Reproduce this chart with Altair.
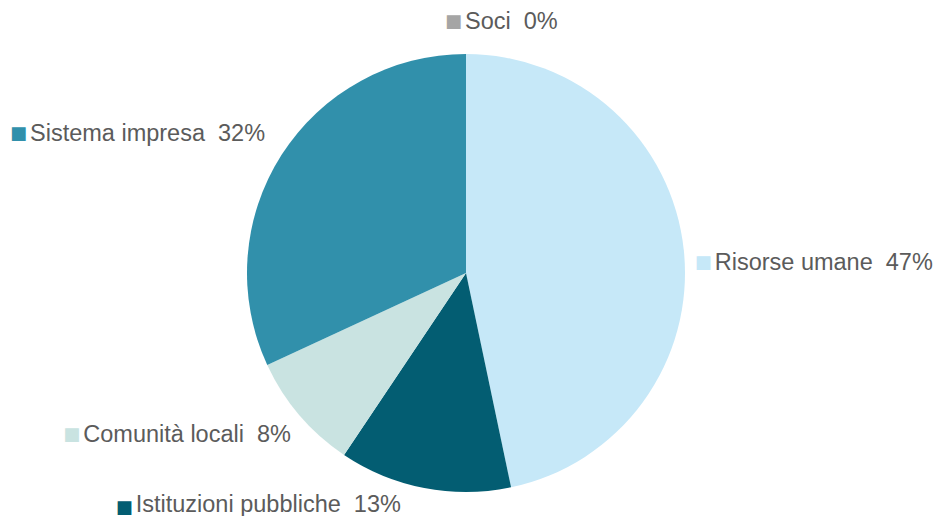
import math
import altair as alt
import pandas as pd

# ---- data ----
categories = ["Soci", "Risorse umane", "Istituzioni pubbliche", "Comunità locali", "Sistema impresa"]
values = [0.0, 46.7, 12.7, 8.7, 31.9]
pct_labels = ["0%", "47%", "13%", "8%", "32%"]
colors = ["#A5A5A5", "#C6E8F8", "#035D72", "#C9E3E1", "#3190AB"]

# ---- style / layout ----
FONT = "Liberation Sans"
FS = 23.5
TEXT_COLOR = "#5b5b5b"
CX, CY = 466, 273
R_PIE = 219
R_LAB = 242
SQ_GAP = 20
SQ_FS = 18
# fine placement of the data labels (pixels), as placed in the original
LABEL_NUDGE = {
    "Soci": (-21, -9),
    "Risorse umane": (-12, 15),
    "Istituzioni pubbliche": (-19, 6),
    "Comunità locali": (9, 5),
    "Sistema impresa": (3, -9),
}

# Arial / Liberation Sans advance widths (em)
W = {' ': .278, '\u00a0': .278, 'a': .556, 'b': .556, 'c': .5, 'd': .556, 'e': .556,
     'h': .556, 'i': .222, 'l': .222, 'm': .833, 'n': .556, 'o': .556, 'p': .556,
     'r': .333, 's': .5, 't': .278, 'u': .556, 'z': .5, 'à': .556, 'S': .667,
     'C': .722, 'I': .278, 'R': .722, '%': .889}


def text_width(s):
    return sum(W.get(ch, .556) for ch in s) * FS


total = sum(values)
cum = 0.0
mids = []
for v in values:
    mids.append(cum + v / 2)
    cum += v

df = pd.DataFrame({
    "order": list(range(len(categories))),
    "cat": categories,
    "value": values,
    "label": [c + " \u00a0" + p for c, p in zip(categories, pct_labels)],
    "mid": mids,
})

theta_scale = alt.Scale(domain=[0, total], range=[0, 2 * math.pi])
color_enc = alt.Color("cat:N", scale=alt.Scale(domain=categories, range=colors), legend=None)

pie = alt.Chart(df).mark_arc(outerRadius=R_PIE, strokeWidth=0).encode(
    theta=alt.Theta("value:Q", stack=True, scale=theta_scale),
    order=alt.Order("order:Q"),
    color=color_enc,
    x=alt.value(CX),
    y=alt.value(CY),
)

layers = [pie]
for cat, label, mid in zip(categories, df["label"], mids):
    ang = mid / total * 2 * math.pi
    s, c = math.sin(ang), math.cos(ang)
    align = "left" if s >= 0 else "right"
    baseline = "bottom" if c < -0.9 else "middle"
    ndx, ndy = LABEL_NUDGE[cat]
    sub = alt.Chart(df).transform_filter(alt.datum.cat == cat)
    txt = sub.mark_text(
        align=align, baseline=baseline,
        dx=(SQ_GAP if align == "left" else 0) + ndx, dy=ndy,
        font=FONT, fontSize=FS, color=TEXT_COLOR,
    ).encode(
        theta=alt.Theta("mid:Q", scale=theta_scale),
        radius=alt.value(R_LAB),
        text="label:N",
        x=alt.value(CX),
        y=alt.value(CY),
    )
    sq = sub.mark_text(
        align="left", baseline=baseline,
        dx=(0 if align == "left" else -(text_width(label) + SQ_GAP)) + ndx, dy=ndy,
        font="DejaVu Sans", fontSize=SQ_FS,
    ).encode(
        theta=alt.Theta("mid:Q", scale=theta_scale),
        radius=alt.value(R_LAB),
        text=alt.value("■"),
        color=color_enc,
        x=alt.value(CX),
        y=alt.value(CY),
    )
    layers += [sq, txt]

chart = alt.layer(*layers).properties(
    width=936, height=516, padding=0,
    autosize=alt.AutoSizeParams(type="none"),
    background="white",
).configure_view(strokeWidth=0)

chart.save("out.html", embed_options={"renderer": "svg", "actions": False})
